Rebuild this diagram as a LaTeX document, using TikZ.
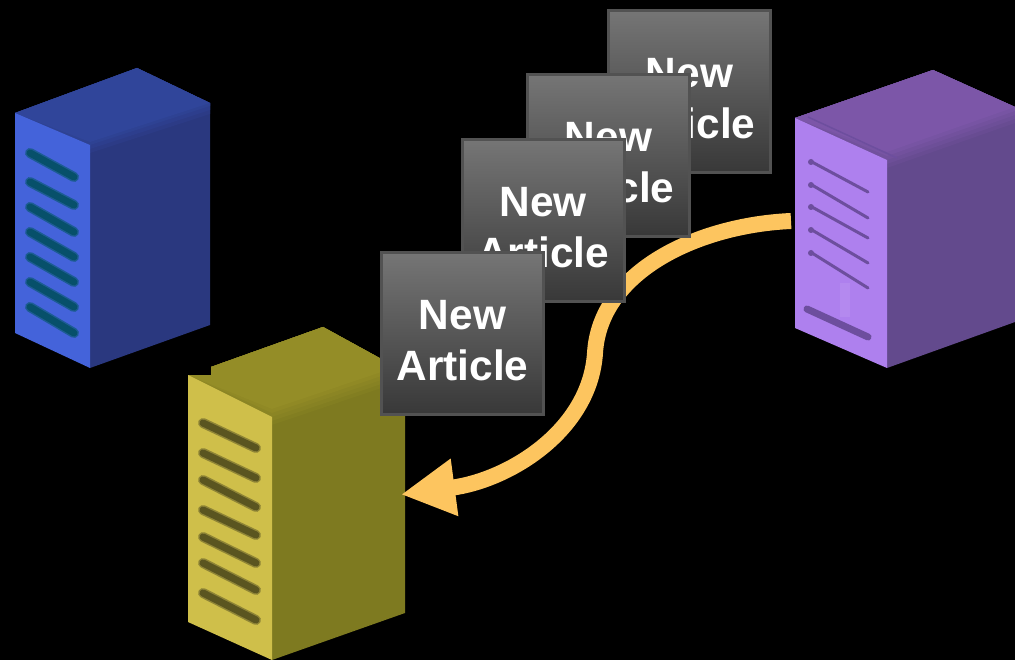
\documentclass[tikz,border=0pt]{standalone}
\usepackage{fontspec}
\setmainfont{Liberation Sans}
\usetikzlibrary{arrows.meta}
\definecolor{arrowc}{HTML}{FDC55F}
\definecolor{bluefront}{HTML}{4463DA}
\definecolor{bluetop}{HTML}{30459A}
\definecolor{blueside}{HTML}{2A387F}
\definecolor{blueslatout}{HTML}{1D5C94}
\definecolor{blueslat}{HTML}{07506A}
\definecolor{yelfront}{HTML}{CFBF4A}
\definecolor{yeltop}{HTML}{948D27}
\definecolor{yelside}{HTML}{7E7A20}
\definecolor{yelslatout}{HTML}{8F8536}
\definecolor{yelslat}{HTML}{5A5520}
\definecolor{purfront}{HTML}{AE80EE}
\definecolor{purtop}{HTML}{7C56A8}
\definecolor{purside}{HTML}{634A8D}
\definecolor{purslat}{HTML}{6D4E9E}
\tikzset{
  article/.style={draw=black!68,line width=3pt,top color=black!54,bottom color=black!78,
    minimum size=162pt,inner sep=0pt,text=white,font=\fontsize{42.4}{51}\selectfont\bfseries},
  flow/.style={draw=arrowc,line width=16pt,-{Triangle[length=54pt,width=54pt,fill=arrowc]}},
  slatb/.style={line cap=round},
}
\newcommand{\artxt}{\raisebox{-18pt}[30pt][30pt]{\begin{tabular}{@{}c@{}}New\\Article\end{tabular}}}
\begin{document}
\begin{tikzpicture}[x=1pt,y=-1pt]
\useasboundingbox (0,0) rectangle (1015,660);
\fill[black] (0,0) rectangle (1015,660);
% blue server
\fill[blueside] (90,145) -- (210,103) -- (210,325) -- (90,368) -- cycle;
\foreach \d/\m in {8/25,4/50,0/75,-3/100}{
  \fill[bluetop!\m!blueside] (15,113) -- (137,68) -- (210,103) -- (210,106+\d) -- (90,145+\d) -- cycle;
}
\fill[bluefront] (15,113) -- (90,145) -- (90,368) -- (15,333) -- cycle;
\foreach \a/\b in {153/177,182/205,207/232,232/257,257/282,282/307,307/333}{
  \draw[slatb,blueslatout,line width=10pt] (30,\a) -- (74,\b);
  \draw[slatb,blueslat,line width=7pt] (30,\a) -- (74,\b);
}
% yellow server
\fill[yelside] (272,417) -- (405,372) -- (405,613) -- (272,660) -- cycle;
\foreach \d/\m in {8/20,4/40,0/60,-4/80,-8/100}{
  \fill[yeltop!\m!yelside] (188,375) -- (211,375) -- (211,367) -- (323,327) -- (405,372) -- (405,372+\d) -- (272,417+\d) -- cycle;
}
\fill[yelfront] (188,375) -- (272,417) -- (272,660) -- (188,622) -- cycle;
\foreach \a/\b in {423/448,453/478,480/507,510/535,537/563,563/590,593/620}{
  \draw[slatb,yelslatout,line width=10pt] (203,\a) -- (256,\b);
  \draw[slatb,yelslat,line width=7pt] (203,\a) -- (256,\b);
}
% purple server
\fill[purside] (887,160) -- (1015,114) -- (1015,322) -- (887,368) -- cycle;
\foreach \d/\m in {8/20,4/40,0/60,-4/80,-8/100}{
  \fill[purtop!\m!purside] (795,118) -- (933,70) -- (1015,107) -- (1015,115+\d) -- (887,160+\d) -- cycle;
}
\fill[purfront] (795,118) -- (887,160) -- (887,368) -- (795,328) -- cycle;
\draw[purslat,line width=1.5pt] (808,117) -- (897,158);
\foreach \a/\b in {162/192,185/218,207/238,230/263,253/288}{
  \draw[purslat,line width=3pt,line cap=round] (812,\a) -- (868,\b);
  \fill[purslat] (811,\a) circle (3pt);
}
\fill[purfront!93!white] (840,283) rectangle (850,317);
\draw[purslat,line width=7pt,line cap=round] (807,309) -- (868,337);
% connector
\coordinate (purpleport) at (791,221);
\coordinate (yellowport) at (401,494.5);
\draw[flow] (purpleport) .. controls (700,225) and (600,270) .. (595,353)
  .. controls (590,430) and (510,480) .. (yellowport);
% articles
\node[article] (a4) at (689.5,91.5) {\artxt};
\node[article] (a3) at (608.5,155.5) {\artxt};
\node[article] (a2) at (543,220.5) {\artxt};
\node[article] (a1) at (462.5,333.5) {\artxt};
\end{tikzpicture}
\end{document}
